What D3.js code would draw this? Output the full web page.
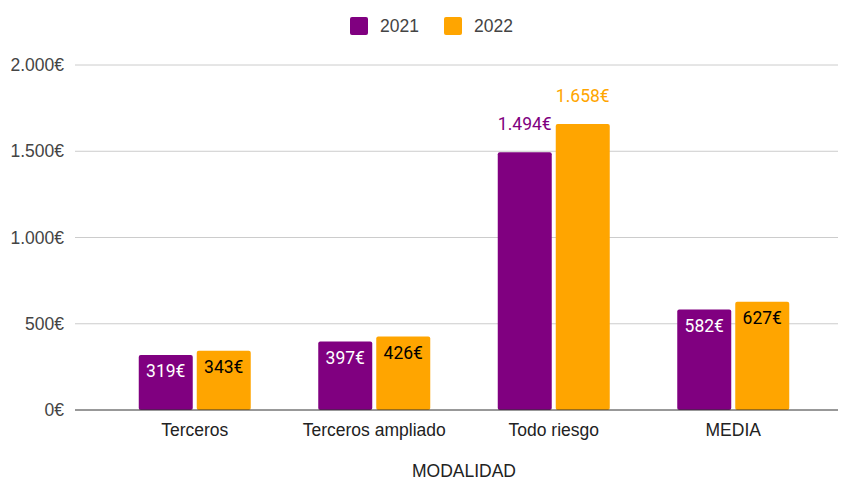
<html>
<head>
<script src="https://d3js.org/d3.v7.min.js"></script>
<style>
  body { margin: 0; background: #fff; }
  svg { display: block; }
</style>
</head>
<body>
<svg></svg>
<script>
var categories = ["Terceros", "Terceros ampliado", "Todo riesgo", "MEDIA"];
var seriesNames = ["2021", "2022"];
var values2021 = [319, 397, 1494, 582];
var values2022 = [343, 426, 1658, 627];
var yTicks = [0, 500, 1000, 1500, 2000];
var colors = ["#800080", "#ffa500"];

var width = 844, height = 478;
var svg = d3.select("svg").attr("width", width).attr("height", height);

var x = d3.scaleBand().domain(categories).range([105, 823]);
var y = d3.scaleLinear().domain([0, 2000]).range([410, 65]);

var fmt = function(v) {
  return d3.format(",")(v).replace(/,/g, ".") + "€";
};

var axisFont = "Liberation Sans, Arial, sans-serif";
var fs = 17.5;

// gridlines
svg.append("g").selectAll("line")
  .data(yTicks.slice(1))
  .enter().append("line")
  .attr("x1", 75).attr("x2", 838)
  .attr("y1", function(d) { return y(d); })
  .attr("y2", function(d) { return y(d); })
  .attr("stroke", "#cccccc").attr("stroke-width", 1);

// y labels
svg.append("g").selectAll("text")
  .data(yTicks)
  .enter().append("text")
  .attr("x", 64)
  .attr("y", function(d) { return y(d); })
  .attr("dy", "0.35em")
  .attr("text-anchor", "end")
  .attr("font-family", axisFont)
  .attr("font-size", fs)
  .attr("fill", "#444")
  .text(fmt);

var series = [values2021, values2022];
var barW = 54, gap = 4;

series.forEach(function(vals, s) {
  var g = svg.append("g");
  g.selectAll("rect")
    .data(vals)
    .enter().append("rect")
    .attr("x", function(d, i) { return x(categories[i]) + x.bandwidth() / 2 - barW - gap / 2 + s * (barW + gap); })
    .attr("y", function(d) { return y(d); })
    .attr("width", barW)
    .attr("height", function(d) { return y(0) - y(d); })
    .attr("rx", 2)
    .attr("fill", colors[s]);

  g.selectAll("text")
    .data(vals)
    .enter().append("text")
    .attr("x", function(d, i) { return x(categories[i]) + x.bandwidth() / 2 - barW / 2 - gap / 2 + s * (barW + gap); })
    .attr("y", function(d) { return d > 1000 ? y(d) - 28 : y(d) + 16; })
    .attr("dy", "0.35em")
    .attr("text-anchor", "middle")
    .attr("font-family", "Roboto, sans-serif")
    .attr("font-size", fs)
    .attr("fill", function(d) {
      if (d > 1000) return colors[s];
      return s === 0 ? "#ffffff" : "#000000";
    })
    .text(fmt);
});

// baseline
svg.append("line")
  .attr("x1", 75).attr("x2", 838)
  .attr("y1", y(0)).attr("y2", y(0))
  .attr("stroke", "#333").attr("stroke-width", 1);

// category labels
svg.append("g").selectAll("text")
  .data(categories)
  .enter().append("text")
  .attr("x", function(d) { return x(d) + x.bandwidth() / 2; })
  .attr("y", 430)
  .attr("dy", "0.35em")
  .attr("text-anchor", "middle")
  .attr("font-family", axisFont)
  .attr("font-size", fs)
  .attr("fill", "#222")
  .text(function(d) { return d; });

// axis title
svg.append("text")
  .attr("x", 464).attr("y", 471)
  .attr("dy", "0.35em")
  .attr("text-anchor", "middle")
  .attr("font-family", axisFont)
  .attr("font-size", fs)
  .attr("fill", "#222")
  .text("MODALIDAD");

// legend
var legendX = [350, 444];
seriesNames.forEach(function(n, i) {
  svg.append("rect")
    .attr("x", legendX[i]).attr("y", 17)
    .attr("width", 18).attr("height", 18)
    .attr("rx", 2)
    .attr("fill", colors[i]);
  svg.append("text")
    .attr("x", legendX[i] + 30).attr("y", 26)
    .attr("dy", "0.35em")
    .attr("font-family", axisFont)
    .attr("font-size", fs)
    .attr("fill", "#444")
    .text(n);
});
</script>
</body>
</html>
